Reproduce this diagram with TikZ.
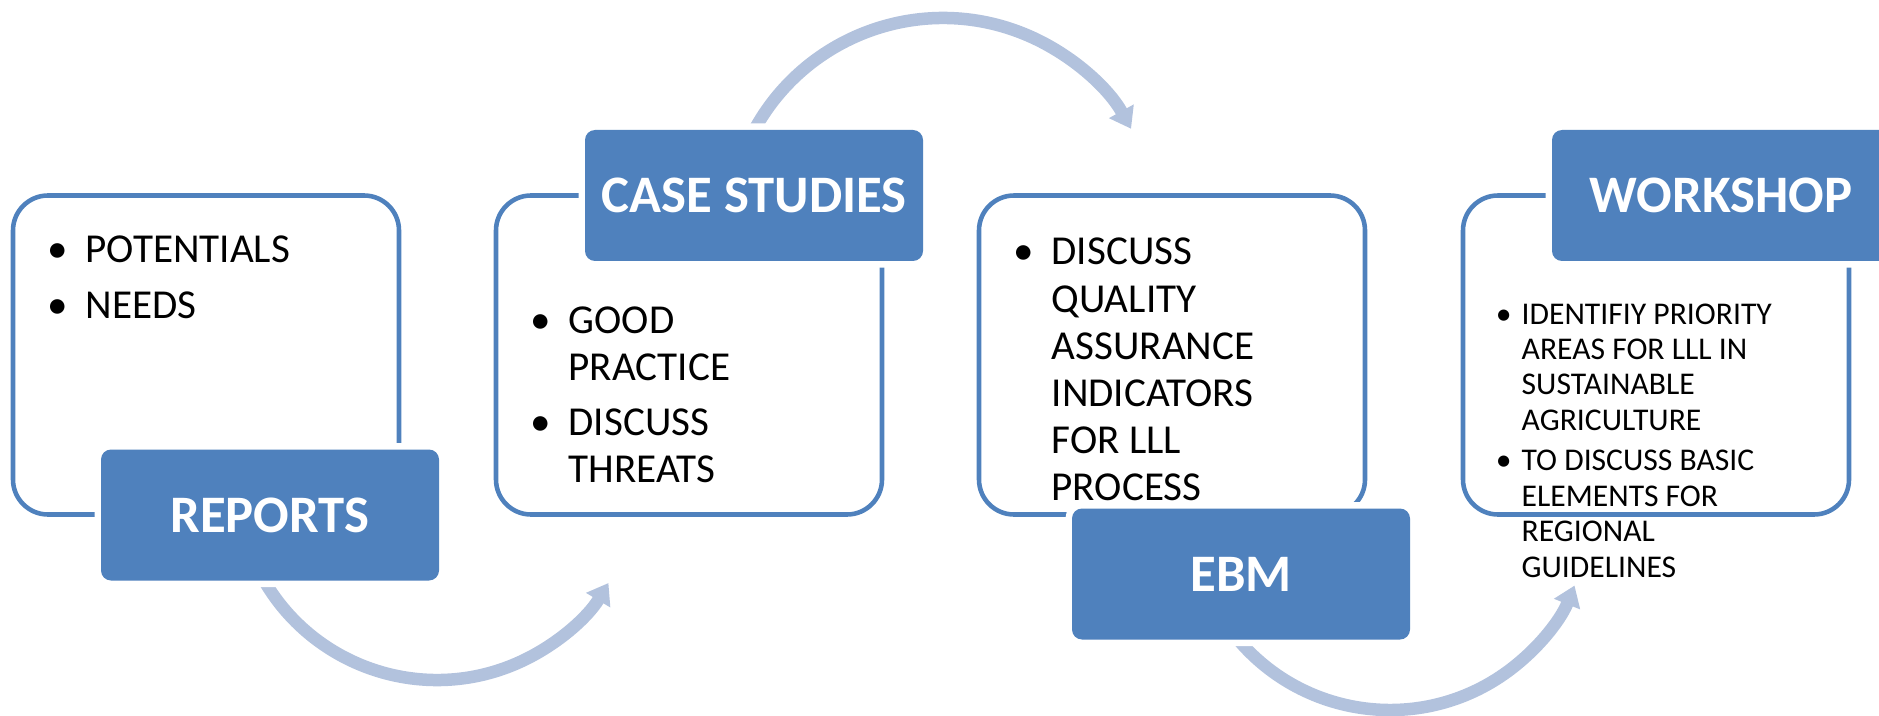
\documentclass[tikz,border=0pt]{standalone}
\usepackage{fontspec}
\setmainfont{Carlito}
\usetikzlibrary{arrows.meta}
\definecolor{titleblue}{HTML}{4F81BD}
\definecolor{arcblue}{HTML}{B2C2DD}
\newcommand\bul[1][0.56cm]{\makebox[#1]{\textbullet}}
\begin{document}
\begin{tikzpicture}[
    frame/.style={draw=titleblue,line width=1.3pt,rounded corners=0.35cm,
      minimum width=3.86cm,minimum height=3.19cm,inner sep=0pt,outer sep=0pt},
    title/.style={fill=titleblue,rounded corners=0.1cm,minimum width=3.38cm,
      minimum height=1.31cm,inner sep=0pt,outer sep=0pt,text=white,
      font=\fontsize{15}{18}\selectfont\bfseries,
      preaction={draw=white,line width=0.13cm}},
    list/.style={anchor=base west,inner sep=0pt,font=\fontsize{11.7}{13.4}\selectfont},
    small/.style={anchor=base west,inner sep=0pt,font=\fontsize{9}{10.1}\selectfont},
    flow/.style={draw=arcblue,line width=0.125cm,-{Triangle[length=0.2cm,width=0.27cm]}}]
  \path[use as bounding box] (0,0) rectangle (18.79,-7.16);
  \clip (0,0) rectangle (18.79,-7.16);
  \def \Arcs{
    a1/4.37/-4.80/205/329/2.00,
    a2/9.43/-2.33/155/29/2.15,
    a3/13.90/-5.11/215/338/1.99}
  \def \Frames{
    f1/2.06/-3.55,
    f2/6.89/-3.55,
    f3/11.72/-3.55,
    f4/16.56/-3.55}
  \def \Titles{
    reports/2.70/-5.15/REPORTS,
    casestudies/7.54/-1.955/CASE STUDIES,
    ebm/12.41/-5.74/EBM,
    workshop/17.21/-1.955/WORKSHOP}
  \foreach \id / \x / \y / \a / \b / \r in \Arcs{
    \coordinate (\id) at (\x, \y);
    \draw[flow] ([shift={(\a:\r)}]\id) arc[start angle=\a, end angle=\b, radius=\r];
  }
  \foreach \id / \x / \y in \Frames{
    \node[frame] (\id) at (\x, \y) {};
  }
  \node[list] (l1) at (0.29,-2.63) {\begin{tabular}[t]{@{}l@{}l@{}}
    \bul & POTENTIALS\\[2.5pt]
    \bul & NEEDS
  \end{tabular}};
  \node[list] (l2) at (5.12,-3.33) {\begin{tabular}[t]{@{}l@{}l@{}}
    \bul & GOOD\\ & PRACTICE\\[2.3pt]
    \bul & DISCUSS\\ & THREATS
  \end{tabular}};
  \node[list] (l3) at (9.95,-2.65) {\begin{tabular}[t]{@{}l@{}l@{}}
    \bul & DISCUSS\\ & QUALITY\\ & ASSURANCE\\ & INDICATORS\\ & FOR LLL\\ & PROCESS
  \end{tabular}};
  \node[small] (l4) at (14.85,-3.24) {\begin{tabular}[t]{@{}l@{}l@{}}
    \bul[0.36cm] & IDENTIFIY PRIORITY\\ & AREAS FOR LLL IN\\ & SUSTAINABLE\\ & AGRICULTURE\\[1.4pt]
    \bul[0.36cm] & TO DISCUSS BASIC\\ & ELEMENTS FOR\\ & REGIONAL\\ & GUIDELINES
  \end{tabular}};
  \foreach \id / \x / \y / \t in \Titles{
    \node[title] (\id) at (\x, \y) {\t};
  }
\end{tikzpicture}
\end{document}
